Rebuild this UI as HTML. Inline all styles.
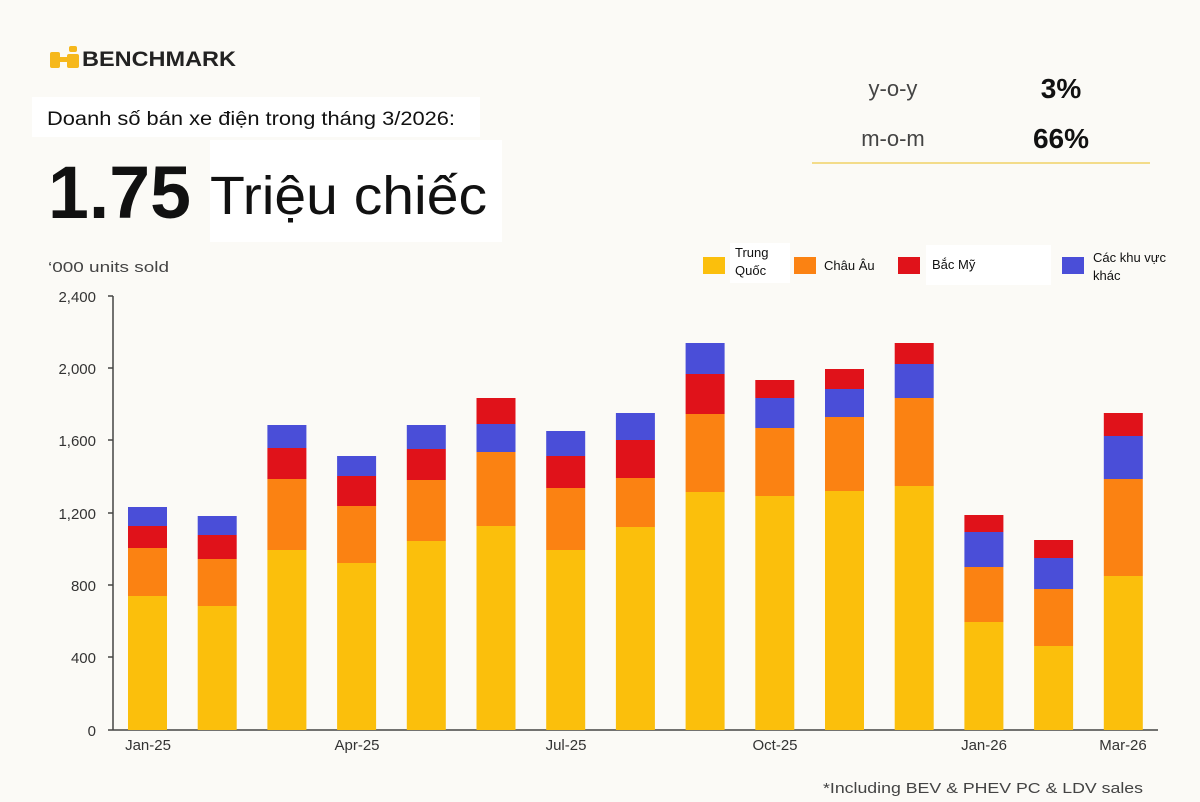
<!DOCTYPE html>
<html><head><meta charset="utf-8"><style>
body{margin:0;width:1200px;height:802px;background:#fbfaf6;overflow:hidden;font-family:"Liberation Sans",sans-serif;}
</style></head><body>
<svg width="1200" height="802" viewBox="0 0 1200 802" xmlns="http://www.w3.org/2000/svg" style="position:absolute;left:0;top:0">
<rect width="1200" height="802" fill="#fbfaf6"/>
<g fill="#f6b81c">
<rect x="50" y="52" width="10" height="16" rx="2"/>
<rect x="69" y="46" width="8" height="6" rx="2"/>
<rect x="67" y="54" width="12" height="14" rx="2"/>
<rect x="56" y="57" width="14" height="5"/>
</g>
<text x="82" y="66" font-size="21" font-weight="bold" fill="#222" textLength="154" lengthAdjust="spacingAndGlyphs">BENCHMARK</text>
<rect x="32" y="97" width="448" height="40" fill="#fff"/>
<rect x="210" y="140" width="292" height="102" fill="#fff"/>
<text x="47" y="125" font-size="19" fill="#111" textLength="408" lengthAdjust="spacingAndGlyphs">Doanh số bán xe điện trong tháng 3/2026:</text>
<text x="48" y="218" font-size="74" font-weight="bold" fill="#111" textLength="143" lengthAdjust="spacingAndGlyphs">1.75</text>
<text x="210" y="214" font-size="54" fill="#111" textLength="277" lengthAdjust="spacingAndGlyphs">Triệu chiếc</text>
<text x="893" y="96" font-size="22" fill="#444" text-anchor="middle">y-o-y</text>
<text x="1061" y="98" font-size="28" font-weight="bold" fill="#111" text-anchor="middle">3%</text>
<text x="893" y="146" font-size="22" fill="#444" text-anchor="middle">m-o-m</text>
<text x="1061" y="148" font-size="28" font-weight="bold" fill="#111" text-anchor="middle">66%</text>
<rect x="812" y="162" width="338" height="2" fill="#f3dc8a"/>
<rect x="730" y="243" width="60" height="40" fill="#fff"/>
<rect x="703" y="257" width="22" height="17" fill="#fbbf0c"/>
<text x="735" y="257" font-size="13" fill="#111">Trung</text>
<text x="735" y="275" font-size="13" fill="#111">Quốc</text>
<rect x="794" y="257" width="22" height="17" fill="#fb8212"/>
<text x="824" y="270" font-size="13" fill="#111">Châu Âu</text>
<rect x="898" y="257" width="22" height="17" fill="#e0121a"/>
<rect x="926" y="245" width="125" height="40" fill="#fff"/>
<text x="932" y="269" font-size="13" fill="#111">Bắc Mỹ</text>
<rect x="1062" y="257" width="22" height="17" fill="#4a4ed8"/>
<text x="1093" y="262" font-size="13" fill="#111">Các khu vực</text>
<text x="1093" y="280" font-size="13" fill="#111">khác</text>
<text x="48" y="272" font-size="15" fill="#444" textLength="121" lengthAdjust="spacingAndGlyphs">‘000 units sold</text>
<g font-size="15" fill="#333" text-anchor="end">
<text x="96" y="302">2,400</text>
<text x="96" y="374">2,000</text>
<text x="96" y="446">1,600</text>
<text x="96" y="519">1,200</text>
<text x="96" y="591">800</text>
<text x="96" y="663">400</text>
<text x="96" y="736">0</text>
</g>
<g stroke="#444" stroke-width="1.5">
<line x1="113" y1="296" x2="113" y2="730"/>
<line x1="113" y1="730" x2="1158" y2="730"/>
<line x1="108" y1="296" x2="113" y2="296"/>
<line x1="108" y1="368" x2="113" y2="368"/>
<line x1="108" y1="440" x2="113" y2="440"/>
<line x1="108" y1="513" x2="113" y2="513"/>
<line x1="108" y1="585" x2="113" y2="585"/>
<line x1="108" y1="657" x2="113" y2="657"/>
<line x1="108" y1="730" x2="113" y2="730"/>
</g>
<g>
<g transform="translate(128,0)"><rect y="507" width="39" height="19" fill="#4a4ed8"/><rect y="526" width="39" height="22" fill="#e0121a"/><rect y="548" width="39" height="48" fill="#fb8212"/><rect y="596" width="39" height="134" fill="#fbbf0c"/></g>
<g transform="translate(197.7,0)"><rect y="516" width="39" height="19" fill="#4a4ed8"/><rect y="535" width="39" height="24" fill="#e0121a"/><rect y="559" width="39" height="47" fill="#fb8212"/><rect y="606" width="39" height="124" fill="#fbbf0c"/></g>
<g transform="translate(267.4,0)"><rect y="425" width="39" height="23" fill="#4a4ed8"/><rect y="448" width="39" height="31" fill="#e0121a"/><rect y="479" width="39" height="71" fill="#fb8212"/><rect y="550" width="39" height="180" fill="#fbbf0c"/></g>
<g transform="translate(337.1,0)"><rect y="456" width="39" height="20" fill="#4a4ed8"/><rect y="476" width="39" height="30" fill="#e0121a"/><rect y="506" width="39" height="57" fill="#fb8212"/><rect y="563" width="39" height="167" fill="#fbbf0c"/></g>
<g transform="translate(406.8,0)"><rect y="425" width="39" height="24" fill="#4a4ed8"/><rect y="449" width="39" height="31" fill="#e0121a"/><rect y="480" width="39" height="61" fill="#fb8212"/><rect y="541" width="39" height="189" fill="#fbbf0c"/></g>
<g transform="translate(476.5,0)"><rect y="398" width="39" height="26" fill="#e0121a"/><rect y="424" width="39" height="28" fill="#4a4ed8"/><rect y="452" width="39" height="74" fill="#fb8212"/><rect y="526" width="39" height="204" fill="#fbbf0c"/></g>
<g transform="translate(546.2,0)"><rect y="431" width="39" height="25" fill="#4a4ed8"/><rect y="456" width="39" height="32" fill="#e0121a"/><rect y="488" width="39" height="62" fill="#fb8212"/><rect y="550" width="39" height="180" fill="#fbbf0c"/></g>
<g transform="translate(615.9,0)"><rect y="413" width="39" height="27" fill="#4a4ed8"/><rect y="440" width="39" height="38" fill="#e0121a"/><rect y="478" width="39" height="49" fill="#fb8212"/><rect y="527" width="39" height="203" fill="#fbbf0c"/></g>
<g transform="translate(685.6,0)"><rect y="343" width="39" height="31" fill="#4a4ed8"/><rect y="374" width="39" height="40" fill="#e0121a"/><rect y="414" width="39" height="78" fill="#fb8212"/><rect y="492" width="39" height="238" fill="#fbbf0c"/></g>
<g transform="translate(755.3,0)"><rect y="380" width="39" height="18" fill="#e0121a"/><rect y="398" width="39" height="30" fill="#4a4ed8"/><rect y="428" width="39" height="68" fill="#fb8212"/><rect y="496" width="39" height="234" fill="#fbbf0c"/></g>
<g transform="translate(825,0)"><rect y="369" width="39" height="20" fill="#e0121a"/><rect y="389" width="39" height="28" fill="#4a4ed8"/><rect y="417" width="39" height="74" fill="#fb8212"/><rect y="491" width="39" height="239" fill="#fbbf0c"/></g>
<g transform="translate(894.7,0)"><rect y="343" width="39" height="21" fill="#e0121a"/><rect y="364" width="39" height="34" fill="#4a4ed8"/><rect y="398" width="39" height="88" fill="#fb8212"/><rect y="486" width="39" height="244" fill="#fbbf0c"/></g>
<g transform="translate(964.4,0)"><rect y="515" width="39" height="17" fill="#e0121a"/><rect y="532" width="39" height="35" fill="#4a4ed8"/><rect y="567" width="39" height="55" fill="#fb8212"/><rect y="622" width="39" height="108" fill="#fbbf0c"/></g>
<g transform="translate(1034.1,0)"><rect y="540" width="39" height="18" fill="#e0121a"/><rect y="558" width="39" height="31" fill="#4a4ed8"/><rect y="589" width="39" height="57" fill="#fb8212"/><rect y="646" width="39" height="84" fill="#fbbf0c"/></g>
<g transform="translate(1103.8,0)"><rect y="413" width="39" height="23" fill="#e0121a"/><rect y="436" width="39" height="43" fill="#4a4ed8"/><rect y="479" width="39" height="97" fill="#fb8212"/><rect y="576" width="39" height="154" fill="#fbbf0c"/></g>
</g>
<g font-size="15" fill="#333" text-anchor="middle">
<text x="148" y="750">Jan-25</text>
<text x="357" y="750">Apr-25</text>
<text x="566" y="750">Jul-25</text>
<text x="775" y="750">Oct-25</text>
<text x="984" y="750">Jan-26</text>
<text x="1123" y="750">Mar-26</text>
</g>
<text x="823" y="793" font-size="15" fill="#444" textLength="320" lengthAdjust="spacingAndGlyphs">*Including BEV &amp; PHEV PC &amp; LDV sales</text>
</svg>
</body></html>
